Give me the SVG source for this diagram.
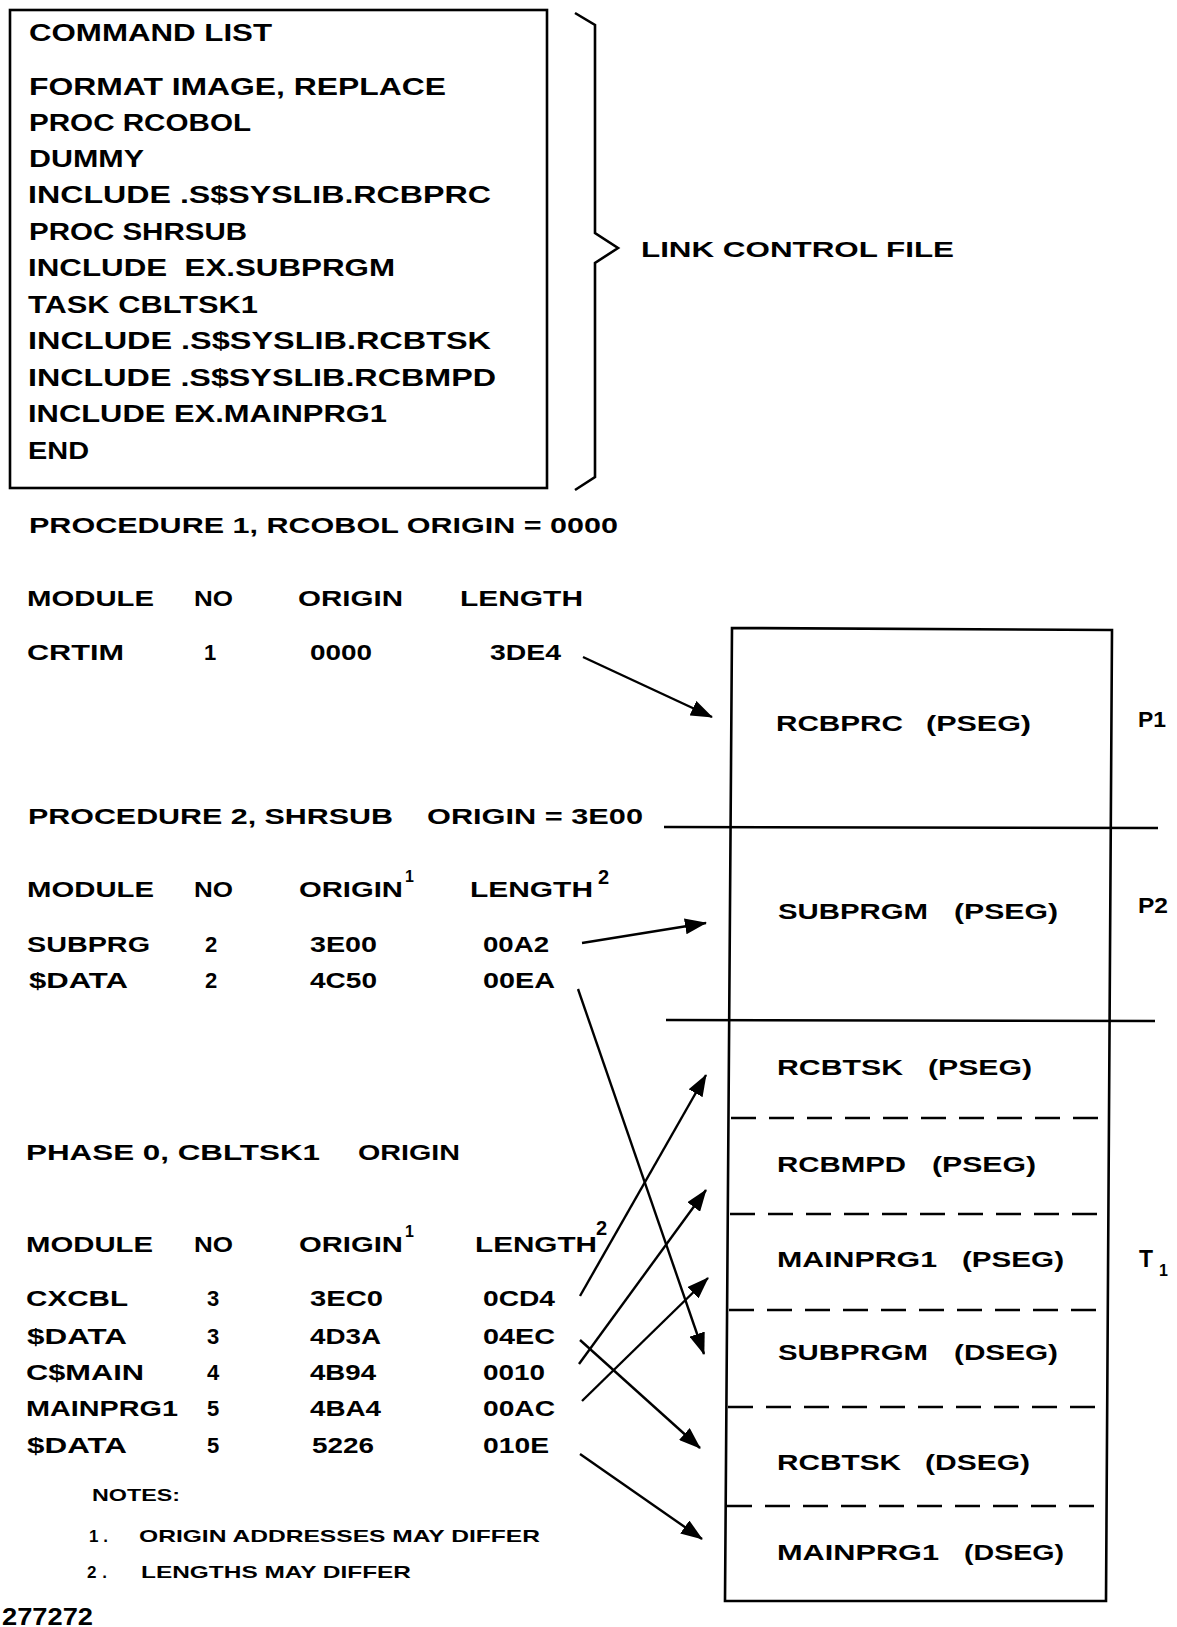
<svg xmlns="http://www.w3.org/2000/svg" width="1177" height="1627" viewBox="0 0 1177 1627">
<style>
  text { font-family: "Liberation Sans", Arial, sans-serif; font-weight: bold; fill: #000; }
  .cmd { font-size: 23px; }
  .t { font-size: 22px; }
  .n { font-size: 17px; }
  .sup1 { font-size: 16px; }
  .sup2 { font-size: 20px; }
  .ln { stroke: #000; stroke-width: 2.6; fill: none; }
  .arr { stroke: #000; stroke-width: 2.4; fill: none; marker-end: url(#ah); }
  .dash { stroke: #000; stroke-width: 2.6; stroke-dasharray: 25 13; fill: none; }
</style>
<defs>
  <marker id="ah" markerUnits="userSpaceOnUse" markerWidth="22" markerHeight="16" viewBox="0 0 22 16" refX="21" refY="8" orient="auto">
    <path d="M0,0 L22,8 L0,16 Z" fill="#000"/>
  </marker>
</defs>
<rect width="1177" height="1627" fill="#fff"/>

<g id="command-list">
  <rect x="10" y="10" width="537" height="478" class="ln"/>
  <text class="cmd" x="29" y="41" textLength="243" lengthAdjust="spacingAndGlyphs">COMMAND LIST</text>
  <text class="cmd" x="29" y="95" textLength="417" lengthAdjust="spacingAndGlyphs">FORMAT IMAGE, REPLACE</text>
  <text class="cmd" x="29" y="131" textLength="222" lengthAdjust="spacingAndGlyphs">PROC RCOBOL</text>
  <text class="cmd" x="29" y="167" textLength="115" lengthAdjust="spacingAndGlyphs">DUMMY</text>
  <text class="cmd" x="28" y="203" textLength="463" lengthAdjust="spacingAndGlyphs">INCLUDE .S$SYSLIB.RCBPRC</text>
  <text class="cmd" x="29" y="240" textLength="218" lengthAdjust="spacingAndGlyphs">PROC SHRSUB</text>
  <text class="cmd" x="28" y="276" textLength="367" lengthAdjust="spacingAndGlyphs" xml:space="preserve">INCLUDE  EX.SUBPRGM</text>
  <text class="cmd" x="28" y="313" textLength="230" lengthAdjust="spacingAndGlyphs">TASK CBLTSK1</text>
  <text class="cmd" x="28" y="349" textLength="463" lengthAdjust="spacingAndGlyphs">INCLUDE .S$SYSLIB.RCBTSK</text>
  <text class="cmd" x="28" y="386" textLength="468" lengthAdjust="spacingAndGlyphs">INCLUDE .S$SYSLIB.RCBMPD</text>
  <text class="cmd" x="28" y="422" textLength="359" lengthAdjust="spacingAndGlyphs">INCLUDE EX.MAINPRG1</text>
  <text class="cmd" x="28" y="459" textLength="61" lengthAdjust="spacingAndGlyphs">END</text>
</g>

<g id="link-control-file">
  <path class="ln" d="M575,13 L595,25 L595,233 L618,248 L595,263 L595,477 L575,490"/>
  <text class="t" x="641" y="257" textLength="313" lengthAdjust="spacingAndGlyphs">LINK CONTROL FILE</text>
</g>

<g id="procedure-1">
  <text class="t" x="29" y="533" textLength="589" lengthAdjust="spacingAndGlyphs">PROCEDURE 1, RCOBOL ORIGIN = 0000</text>
  <text class="t" x="27" y="606" textLength="127" lengthAdjust="spacingAndGlyphs">MODULE</text>
  <text class="t" x="194" y="606" textLength="39" lengthAdjust="spacingAndGlyphs">NO</text>
  <text class="t" x="298" y="606" textLength="105" lengthAdjust="spacingAndGlyphs">ORIGIN</text>
  <text class="t" x="460" y="606" textLength="123" lengthAdjust="spacingAndGlyphs">LENGTH</text>
  <text class="t" x="27" y="660" textLength="97" lengthAdjust="spacingAndGlyphs">CRTIM</text>
  <text class="t" x="204" y="660">1</text>
  <text class="t" x="310" y="660" textLength="62" lengthAdjust="spacingAndGlyphs">0000</text>
  <text class="t" x="490" y="660" textLength="71" lengthAdjust="spacingAndGlyphs">3DE4</text>
</g>

<g id="procedure-2">
  <text class="t" x="28" y="824" textLength="365" lengthAdjust="spacingAndGlyphs">PROCEDURE 2, SHRSUB</text>
  <text class="t" x="427" y="824" textLength="216" lengthAdjust="spacingAndGlyphs">ORIGIN = 3E00</text>
  <text class="t" x="27" y="897" textLength="127" lengthAdjust="spacingAndGlyphs">MODULE</text>
  <text class="t" x="194" y="897" textLength="39" lengthAdjust="spacingAndGlyphs">NO</text>
  <text class="t" x="299" y="897" textLength="104" lengthAdjust="spacingAndGlyphs">ORIGIN</text>
  <text class="sup1" x="405" y="882">1</text>
  <text class="t" x="470" y="897" textLength="123" lengthAdjust="spacingAndGlyphs">LENGTH</text>
  <text class="sup2" x="598" y="884">2</text>
  <text class="t" x="27" y="952" textLength="123" lengthAdjust="spacingAndGlyphs">SUBPRG</text>
  <text class="t" x="205" y="952">2</text>
  <text class="t" x="310" y="952" textLength="67" lengthAdjust="spacingAndGlyphs">3E00</text>
  <text class="t" x="483" y="952" textLength="66" lengthAdjust="spacingAndGlyphs">00A2</text>
  <text class="t" x="29" y="988" textLength="99" lengthAdjust="spacingAndGlyphs">$DATA</text>
  <text class="t" x="205" y="988">2</text>
  <text class="t" x="310" y="988" textLength="67" lengthAdjust="spacingAndGlyphs">4C50</text>
  <text class="t" x="483" y="988" textLength="72" lengthAdjust="spacingAndGlyphs">00EA</text>
</g>

<g id="phase-0">
  <text class="t" x="26" y="1160" textLength="294" lengthAdjust="spacingAndGlyphs">PHASE 0, CBLTSK1</text>
  <text class="t" x="358" y="1160" textLength="102" lengthAdjust="spacingAndGlyphs">ORIGIN</text>
  <text class="t" x="26" y="1252" textLength="127" lengthAdjust="spacingAndGlyphs">MODULE</text>
  <text class="t" x="194" y="1252" textLength="39" lengthAdjust="spacingAndGlyphs">NO</text>
  <text class="t" x="299" y="1252" textLength="104" lengthAdjust="spacingAndGlyphs">ORIGIN</text>
  <text class="sup1" x="405" y="1237">1</text>
  <text class="t" x="475" y="1252" textLength="122" lengthAdjust="spacingAndGlyphs">LENGTH</text>
  <text class="sup2" x="596" y="1235">2</text>

  <text class="t" x="26" y="1306" textLength="102" lengthAdjust="spacingAndGlyphs">CXCBL</text>
  <text class="t" x="207" y="1306">3</text>
  <text class="t" x="310" y="1306" textLength="73" lengthAdjust="spacingAndGlyphs">3EC0</text>
  <text class="t" x="483" y="1306" textLength="72" lengthAdjust="spacingAndGlyphs">0CD4</text>

  <text class="t" x="27" y="1344" textLength="100" lengthAdjust="spacingAndGlyphs">$DATA</text>
  <text class="t" x="207" y="1344">3</text>
  <text class="t" x="310" y="1344" textLength="71" lengthAdjust="spacingAndGlyphs">4D3A</text>
  <text class="t" x="483" y="1344" textLength="72" lengthAdjust="spacingAndGlyphs">04EC</text>

  <text class="t" x="26" y="1380" textLength="118" lengthAdjust="spacingAndGlyphs">C$MAIN</text>
  <text class="t" x="207" y="1380">4</text>
  <text class="t" x="310" y="1380" textLength="66" lengthAdjust="spacingAndGlyphs">4B94</text>
  <text class="t" x="483" y="1380" textLength="62" lengthAdjust="spacingAndGlyphs">0010</text>

  <text class="t" x="26" y="1416" textLength="152" lengthAdjust="spacingAndGlyphs">MAINPRG1</text>
  <text class="t" x="207" y="1416">5</text>
  <text class="t" x="310" y="1416" textLength="71" lengthAdjust="spacingAndGlyphs">4BA4</text>
  <text class="t" x="483" y="1416" textLength="72" lengthAdjust="spacingAndGlyphs">00AC</text>

  <text class="t" x="27" y="1453" textLength="100" lengthAdjust="spacingAndGlyphs">$DATA</text>
  <text class="t" x="207" y="1453">5</text>
  <text class="t" x="312" y="1453" textLength="62" lengthAdjust="spacingAndGlyphs">5226</text>
  <text class="t" x="483" y="1453" textLength="66" lengthAdjust="spacingAndGlyphs">010E</text>
</g>

<g id="notes">
  <text class="n" x="92" y="1501" textLength="88" lengthAdjust="spacingAndGlyphs">NOTES:</text>
  <text class="n" x="89" y="1542" textLength="19" lengthAdjust="spacing">1.</text>
  <text class="n" x="139" y="1542" textLength="401" lengthAdjust="spacingAndGlyphs">ORIGIN ADDRESSES MAY DIFFER</text>
  <text class="n" x="87" y="1578" textLength="20" lengthAdjust="spacing">2.</text>
  <text class="n" x="141" y="1578" textLength="270" lengthAdjust="spacingAndGlyphs">LENGTHS MAY DIFFER</text>
</g>

<g id="figure-number">
  <text class="cmd" x="2" y="1625" textLength="91" lengthAdjust="spacingAndGlyphs">277272</text>
</g>

<g id="memory-map">
  <path class="ln" d="M732,628 L1112,630 L1106,1601 L725,1601 Z"/>
  <line class="ln" x1="664" y1="827" x2="1158" y2="828"/>
  <line class="ln" x1="666" y1="1020" x2="1155" y2="1021"/>
  <line class="dash" x1="731" y1="1118" x2="1110" y2="1118"/>
  <line class="dash" x1="730" y1="1214" x2="1109" y2="1214"/>
  <line class="dash" x1="729" y1="1310" x2="1109" y2="1310"/>
  <line class="dash" x1="728" y1="1407" x2="1108" y2="1407"/>
  <line class="dash" x1="727" y1="1506" x2="1107" y2="1506"/>

  <g id="seg-rcbprc-pseg">
    <text class="t" x="776" y="731" textLength="127" lengthAdjust="spacingAndGlyphs">RCBPRC</text>
    <text class="t" x="926" y="731" textLength="105" lengthAdjust="spacingAndGlyphs">(PSEG)</text>
  </g>
  <g id="seg-subprgm-pseg">
    <text class="t" x="778" y="919" textLength="150" lengthAdjust="spacingAndGlyphs">SUBPRGM</text>
    <text class="t" x="954" y="919" textLength="104" lengthAdjust="spacingAndGlyphs">(PSEG)</text>
  </g>
  <g id="seg-rcbtsk-pseg">
    <text class="t" x="777" y="1075" textLength="126" lengthAdjust="spacingAndGlyphs">RCBTSK</text>
    <text class="t" x="928" y="1075" textLength="104" lengthAdjust="spacingAndGlyphs">(PSEG)</text>
  </g>
  <g id="seg-rcbmpd-pseg">
    <text class="t" x="777" y="1172" textLength="129" lengthAdjust="spacingAndGlyphs">RCBMPD</text>
    <text class="t" x="932" y="1172" textLength="104" lengthAdjust="spacingAndGlyphs">(PSEG)</text>
  </g>
  <g id="seg-mainprg1-pseg">
    <text class="t" x="777" y="1267" textLength="160" lengthAdjust="spacingAndGlyphs">MAINPRG1</text>
    <text class="t" x="962" y="1267" textLength="102" lengthAdjust="spacingAndGlyphs">(PSEG)</text>
  </g>
  <g id="seg-subprgm-dseg">
    <text class="t" x="778" y="1360" textLength="150" lengthAdjust="spacingAndGlyphs">SUBPRGM</text>
    <text class="t" x="954" y="1360" textLength="104" lengthAdjust="spacingAndGlyphs">(DSEG)</text>
  </g>
  <g id="seg-rcbtsk-dseg">
    <text class="t" x="777" y="1470" textLength="124" lengthAdjust="spacingAndGlyphs">RCBTSK</text>
    <text class="t" x="925" y="1470" textLength="105" lengthAdjust="spacingAndGlyphs">(DSEG)</text>
  </g>
  <g id="seg-mainprg1-dseg">
    <text class="t" x="777" y="1560" textLength="162" lengthAdjust="spacingAndGlyphs">MAINPRG1</text>
    <text class="t" x="964" y="1560" textLength="100" lengthAdjust="spacingAndGlyphs">(DSEG)</text>
  </g>

  <text class="t" x="1138" y="727" textLength="28" lengthAdjust="spacingAndGlyphs">P1</text>
  <text class="t" x="1138" y="913" textLength="30" lengthAdjust="spacingAndGlyphs">P2</text>
  <text class="t" x="1139" y="1267" style="font-size:23px">T</text>
  <text class="sup1" x="1159" y="1276">1</text>
</g>

<g id="connectors">
  <line class="arr" x1="583" y1="657" x2="712" y2="717"/>
  <line class="arr" x1="582" y1="943" x2="706" y2="923"/>
  <line class="arr" x1="578" y1="989" x2="704" y2="1354"/>
  <line class="arr" x1="580" y1="1296" x2="706" y2="1075"/>
  <line class="arr" x1="580" y1="1340" x2="700" y2="1448"/>
  <line class="arr" x1="579" y1="1364" x2="706" y2="1190"/>
  <line class="arr" x1="582" y1="1401" x2="708" y2="1278"/>
  <line class="arr" x1="580" y1="1454" x2="702" y2="1539"/>
</g>
</svg>
